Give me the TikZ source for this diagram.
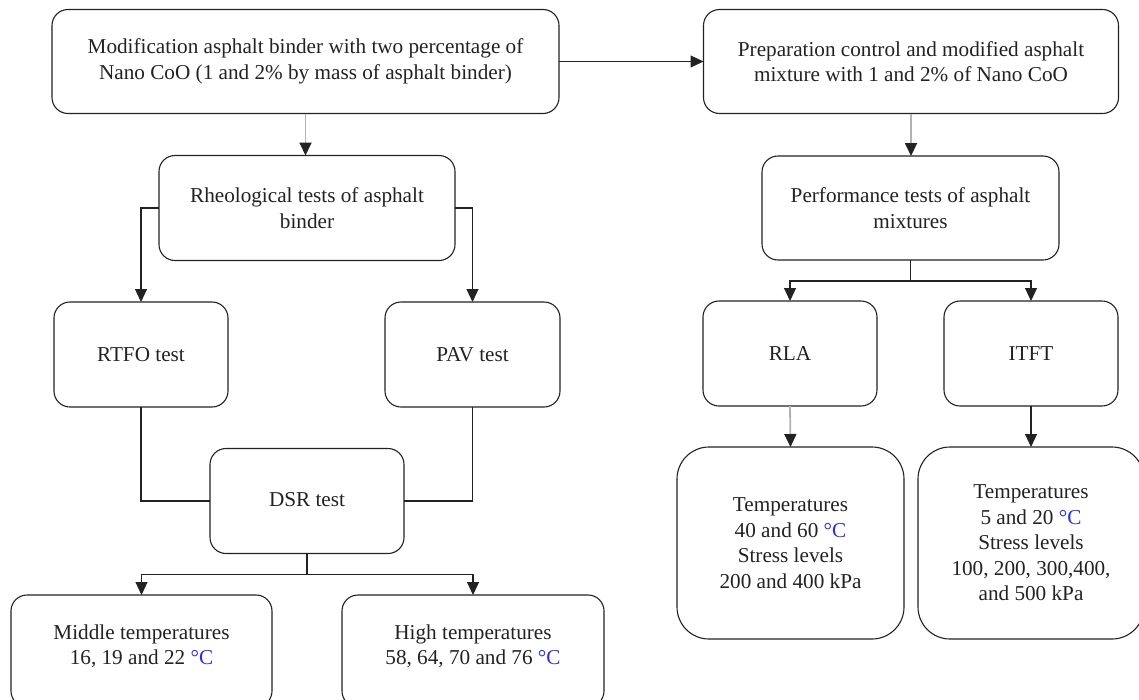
\documentclass[tikz,border=0pt]{standalone}
\usepackage{fontspec}
\setmainfont{Liberation Serif}
\usetikzlibrary{arrows.meta}
\definecolor{ink}{HTML}{222222}
\definecolor{degblue}{HTML}{2A2AF0}
\newcommand{\dC}{\textcolor{degblue}{°C}}
\begin{document}
\begin{tikzpicture}[x=1pt,y=-1pt,
  every node/.style={font=\fontsize{21.2}{25.5}\selectfont, text=ink},
  box/.style={draw=ink, line width=1.1pt, rounded corners=16pt, align=center, inner sep=0pt, outer sep=0pt},
  bigbox/.style={box, rounded corners=32pt},
  conn/.style={draw=ink, line width=1.1pt},
  arr/.style={conn, -{Triangle[length=13pt,width=12pt,color=ink]}},
  garr/.style={arr, draw=gray!60, line width=1.8pt}
]
\useasboundingbox (0,0) rectangle (1139,699);

\node[box, minimum width=507pt, minimum height=104pt] (A) at (305.5,61.5)
  {Modification asphalt binder with two percentage of\\Nano CoO (1 and 2\% by mass of asphalt binder)};
\node[box, minimum width=415pt, minimum height=104pt] (B) at (911,61.5)
  {Preparation control and modified asphalt\\mixture with 1 and 2\% of Nano CoO};
\node[box, minimum width=296pt, minimum height=105pt] (R) at (307,208)
  {Rheological tests of asphalt\\binder};
\node[box, minimum width=297pt, minimum height=104pt] (P) at (910.5,208)
  {Performance tests of asphalt\\mixtures};
\node[box, minimum width=174pt, minimum height=105pt] (RTFO) at (141,354.5) {RTFO test};
\node[box, minimum width=175pt, minimum height=105pt] (PAV) at (472.5,354.5) {PAV test};
\node[box, minimum width=174pt, minimum height=105pt] (RLA) at (790,353.5) {RLA};
\node[box, minimum width=174pt, minimum height=105pt] (ITFT) at (1031,353.5) {ITFT};
\node[box, minimum width=194pt, minimum height=105pt] (DSR) at (307,501) {\raisebox{3pt}{DSR test}};
\node[box, minimum width=261pt, minimum height=112pt,
  label={[align=center, yshift=4.5pt]center:{Middle temperatures\\16, 19 and 22 \dC}}] (Mid) at (141.5,651) {};
\node[box, minimum width=262pt, minimum height=112pt,
  label={[align=center, yshift=4.5pt]center:{High temperatures\\58, 64, 70 and 76 \dC}}] (High) at (473,651) {};
\node[bigbox, minimum width=227pt, minimum height=192pt] (RLAT) at (790.5,543)
  {Temperatures\\40 and 60 \dC\\Stress levels\\200 and 400 kPa};
\node[bigbox, minimum width=226pt, minimum height=192pt] (ITFTT) at (1031,543)
  {Temperatures\\5 and 20 \dC\\Stress levels\\100, 200, 300,400,\\and 500 kPa};

% connectors
\draw[arr] (A.east) -- (B.west);
\draw[garr] (A.south) -- (A.south |- R.north);
\draw[garr] (B.south) -- (B.south |- P.north);
\draw[arr] (R.west) -| (RTFO.north);
\draw[arr] (R.east) -| (PAV.north);
\draw[conn] (RTFO.south) |- (DSR.west);
\draw[conn] (PAV.south) |- (DSR.east);
\draw[conn] (DSR.south) -- ++(0,21) coordinate (d1);
\draw[arr] (d1) -| (Mid.north);
\draw[arr] (d1) -| (High.north);
\draw[conn] (P.south) -- ++(0,21) coordinate (p1);
\draw[arr] (p1) -| (RLA.north);
\draw[arr] (p1) -| (ITFT.north);
\draw[garr] (RLA.south) -- (RLAT.north);
\draw[arr] (ITFT.south) -- (ITFTT.north);
\end{tikzpicture}
\end{document}
